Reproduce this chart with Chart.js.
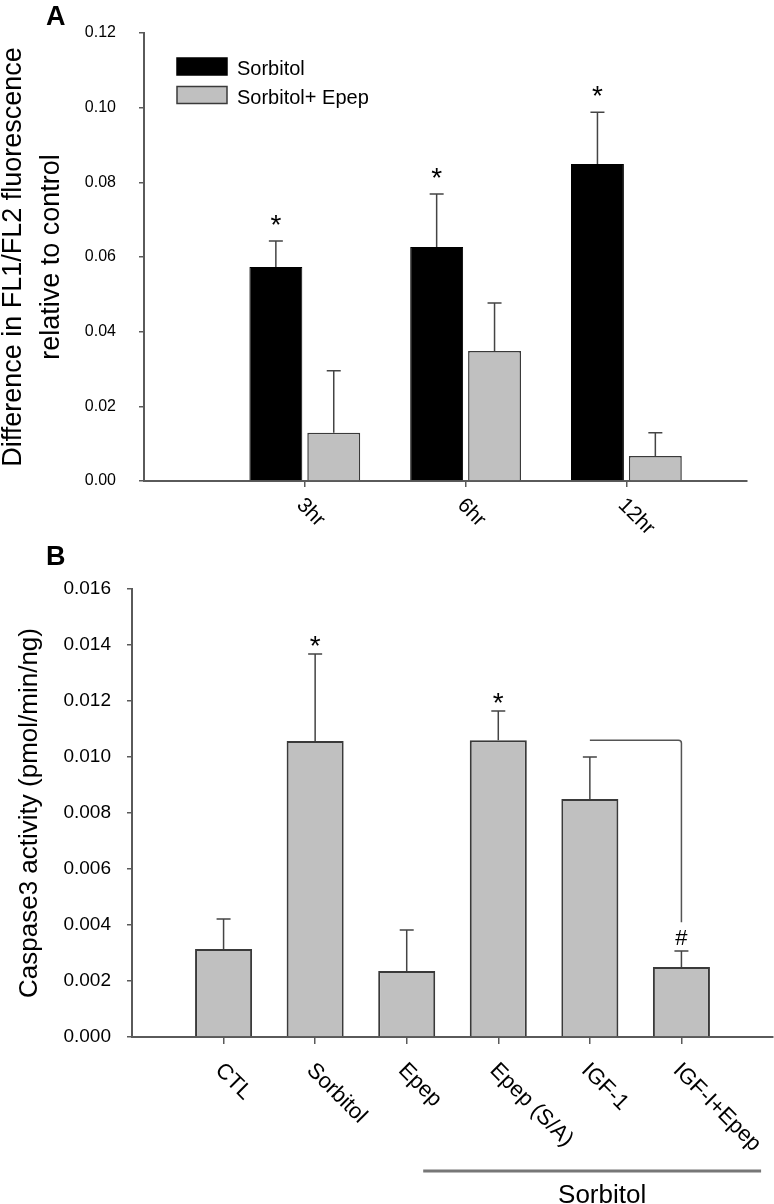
<!DOCTYPE html>
<html>
<head>
<meta charset="utf-8">
<script src="https://cdn.jsdelivr.net/npm/chart.js@4.4.1/dist/chart.umd.min.js"></script>
<style>
  body { margin: 0; background: #fff; }
  canvas { position: absolute; left: 0; }
  #chartA { top: 0; }
  #chartB { top: 540px; }
</style>
</head>
<body>
<canvas id="chartA" width="774" height="540"></canvas>
<canvas id="chartB" width="774" height="664"></canvas>
<script>
// panel A: FL1/FL2 difference over time
const timeLabels = ['3hr', '6hr', '12hr'];
const sorbitolMeans = [0.0573, 0.0627, 0.0849];
const sorbitolErrors = [0.0070, 0.0142, 0.0139];
const sorbitolMarks = ['*', '*', '*'];
const epepMeans = [0.0129, 0.0348, 0.0067];
const epepErrors = [0.0166, 0.0129, 0.0062];
const epepMarks = ['', '', ''];
const yTicksA = [0, 0.02, 0.04, 0.06, 0.08, 0.10, 0.12];

// panel B: caspase3 activity
const groupLabels = ['CTL', 'Sorbitol', 'Epep', 'Epep (S/A)', 'IGF-1', 'IGF-I+Epep'];
const caspaseMeans = [0.00314, 0.01057, 0.00236, 0.0106, 0.0085, 0.0025];
const caspaseErrors = [0.00107, 0.00311, 0.00146, 0.00104, 0.0015, 0.00057];
const caspaseMarks = ['', '*', '', '*', '', '#'];
const yTicksB = [0, 0.002, 0.004, 0.006, 0.008, 0.010, 0.012, 0.014, 0.016];
const bracketLevels = [0.0106, 0.0041];   // IGF-1 vs IGF-I+Epep
const sorbitolSpan = [3.18, 6.87];         // line under the sorbitol-treated groups

const FONT = "'Liberation Sans', Arial, Helvetica, sans-serif";
const AXIS = '#5a5a5a';
const BAR_GRAY = '#c0c0c0';
const BAR_EDGE = '#3a3a3a';

Chart.defaults.font.family = FONT;
Chart.defaults.color = '#000';

function errorBars(errors, marks, markSize, markLift) {
  return {
    id: 'errorBars',
    afterDatasetsDraw(chart) {
      const ctx = chart.ctx;
      const y = chart.scales.y;
      ctx.save();
      chart.data.datasets.forEach((ds, di) => {
        chart.getDatasetMeta(di).data.forEach((bar, i) => {
          const top = y.getPixelForValue(ds.data[i].y + errors[di][i]);
          ctx.strokeStyle = '#444';
          ctx.lineWidth = 1.5;
          ctx.beginPath();
          ctx.moveTo(bar.x, bar.y);
          ctx.lineTo(bar.x, top);
          ctx.moveTo(bar.x - 7, top);
          ctx.lineTo(bar.x + 7, top);
          ctx.stroke();
          const m = marks[di][i];
          if (m) {
            ctx.fillStyle = '#000';
            ctx.font = (m === '#' ? 22 : markSize) + 'px ' + FONT;
            ctx.textAlign = 'center';
            ctx.textBaseline = 'alphabetic';
            ctx.fillText(m, bar.x, top - (m === '#' ? 6 : markLift));
          }
        });
      });
      ctx.restore();
    }
  };
}

function slantedLabels(labels, size, drop) {
  return {
    id: 'slantedLabels',
    afterDraw(chart) {
      const { ctx, chartArea } = chart;
      const x = chart.scales.x;
      ctx.save();
      ctx.font = size + 'px ' + FONT;
      ctx.fillStyle = '#000';
      ctx.textAlign = 'left';
      ctx.textBaseline = 'middle';
      labels.forEach((label, i) => {
        ctx.save();
        ctx.translate(x.getPixelForValue(i + 1) - 5, chartArea.bottom + drop);
        ctx.rotate(Math.PI / 4);
        ctx.fillText(label, 0, 0);
        ctx.restore();
      });
      ctx.restore();
    }
  };
}

function panelLetter(letter) {
  return {
    id: 'panelLetter',
    afterDraw(chart) {
      const ctx = chart.ctx;
      ctx.save();
      ctx.font = 'bold 27px ' + FONT;
      ctx.fillStyle = '#000';
      ctx.fillText(letter, 46, 25);
      ctx.restore();
    }
  };
}

const legendA = {
  id: 'legendA',
  afterDraw(chart) {
    const { ctx, chartArea } = chart;
    ctx.save();
    ctx.font = '20px ' + FONT;
    chart.data.datasets.forEach((ds, i) => {
      const bx = chartArea.left + 33;
      const by = chartArea.top + 25 + i * 28.5;
      ctx.fillStyle = ds.backgroundColor;
      ctx.fillRect(bx, by, 50, 17);
      ctx.strokeStyle = ds.borderColor;
      ctx.lineWidth = 1.5;
      ctx.strokeRect(bx, by, 50, 17);
      ctx.fillStyle = '#000';
      ctx.fillText(ds.label, bx + 60, by + 17);
    });
    ctx.restore();
  }
};

const annotationsB = {
  id: 'annotationsB',
  afterDraw(chart) {
    const { ctx } = chart;
    const x = chart.scales.x, y = chart.scales.y;
    ctx.save();
    // significance bracket
    const x1 = x.getPixelForValue(5), x2 = x.getPixelForValue(6);
    const yTop = y.getPixelForValue(bracketLevels[0]);
    const yBot = y.getPixelForValue(bracketLevels[1]);
    ctx.strokeStyle = '#555';
    ctx.lineWidth = 1.5;
    ctx.beginPath();
    ctx.moveTo(x1, yTop);
    ctx.lineTo(x2 - 3, yTop);
    ctx.quadraticCurveTo(x2, yTop, x2, yTop + 3);
    ctx.lineTo(x2, yBot);
    ctx.stroke();
    // sorbitol group line
    const s1 = x.getPixelForValue(sorbitolSpan[0]);
    const s2 = x.getPixelForValue(sorbitolSpan[1]);
    const ly = chart.height - 33;
    ctx.strokeStyle = '#777';
    ctx.lineWidth = 3;
    ctx.beginPath();
    ctx.moveTo(s1, ly);
    ctx.lineTo(s2, ly);
    ctx.stroke();
    ctx.font = '26px ' + FONT;
    ctx.fillStyle = '#000';
    ctx.textAlign = 'center';
    ctx.fillText('Sorbitol', (s1 + s2) / 2 + 10, chart.height - 1);
    ctx.restore();
  }
};

function axisGrid(len) {
  return { offset: false, drawOnChartArea: false, drawTicks: true, tickLength: len, color: AXIS, lineWidth: 1.5 };
}

new Chart(document.getElementById('chartA'), {
  type: 'bar',
  data: {
    datasets: [
      {
        label: 'Sorbitol',
        data: timeLabels.map((_, i) => ({ x: i + 1, y: sorbitolMeans[i] })),
        backgroundColor: '#000', borderColor: '#000', borderWidth: 1,
        categoryPercentage: 0.72, barPercentage: 0.914
      },
      {
        label: 'Sorbitol+ Epep',
        data: timeLabels.map((_, i) => ({ x: i + 1, y: epepMeans[i] })),
        backgroundColor: BAR_GRAY, borderColor: BAR_EDGE, borderWidth: 1.5,
        categoryPercentage: 0.72, barPercentage: 0.914
      }
    ]
  },
  options: {
    responsive: false,
    animation: false,
    devicePixelRatio: 1,
    layout: { padding: { top: 33, right: 27, bottom: 0, left: 0 } },
    plugins: { legend: { display: false }, tooltip: { enabled: false } },
    scales: {
      x: {
        type: 'linear', min: 0, max: 3.75, offset: false,
        afterBuildTicks: s => { s.ticks = timeLabels.map((_, i) => ({ value: i + 1 })); },
        afterFit: s => { s.height = 59; },
        ticks: { display: false },
        grid: axisGrid(6),
        border: { color: AXIS, width: 2 }
      },
      y: {
        min: 0, max: 0.12,
        afterBuildTicks: s => { s.ticks = yTicksA.map(v => ({ value: v })); },
        afterFit: s => { s.width = 144; },
        ticks: { font: { size: 16 }, padding: 23, callback: v => v.toFixed(2) },
        grid: axisGrid(5),
        border: { color: AXIS, width: 2 },
        title: {
          display: true,
          text: ['Difference in FL1/FL2 fluorescence', 'relative to control'],
          font: { size: 27, lineHeight: 1.42 },
          padding: { top: -6, bottom: 0 },
          color: '#000'
        }
      }
    }
  },
  plugins: [errorBars([sorbitolErrors, epepErrors], [sorbitolMarks, epepMarks], 28, 7),
            slantedLabels(timeLabels, 21, 21), panelLetter('A'), legendA]
});

new Chart(document.getElementById('chartB'), {
  type: 'bar',
  data: {
    datasets: [{
      label: 'Caspase3 activity',
      data: groupLabels.map((_, i) => ({ x: i + 1, y: caspaseMeans[i] })),
      backgroundColor: BAR_GRAY, borderColor: BAR_EDGE, borderWidth: 2,
      categoryPercentage: 1, barPercentage: 0.623
    }]
  },
  options: {
    responsive: false,
    animation: false,
    devicePixelRatio: 1,
    layout: { padding: { top: 49, right: 1, bottom: 0, left: 0 } },
    plugins: { legend: { display: false }, tooltip: { enabled: false } },
    scales: {
      x: {
        type: 'linear', min: 0, max: 7, offset: false,
        afterBuildTicks: s => { s.ticks = groupLabels.map((_, i) => ({ value: i + 1 })); },
        afterFit: s => { s.height = 167; },
        ticks: { display: false },
        grid: axisGrid(7),
        border: { color: AXIS, width: 2 }
      },
      y: {
        min: 0, max: 0.016,
        afterBuildTicks: s => { s.ticks = yTicksB.map(v => ({ value: v })); },
        afterFit: s => { s.width = 132; },
        ticks: { font: { size: 19 }, padding: 16, callback: v => v.toFixed(3) },
        grid: axisGrid(5),
        border: { color: AXIS, width: 2 },
        title: {
          display: true,
          text: 'Caspase3 activity (pmol/min/ng)',
          font: { size: 26, lineHeight: 1.2 },
          padding: { top: 14, bottom: 0 },
          color: '#000'
        }
      }
    }
  },
  plugins: [errorBars([caspaseErrors], [caspaseMarks], 28, -1),
            slantedLabels(groupLabels, 22, 30), panelLetter('B'), annotationsB]
});
</script>
</body>
</html>
